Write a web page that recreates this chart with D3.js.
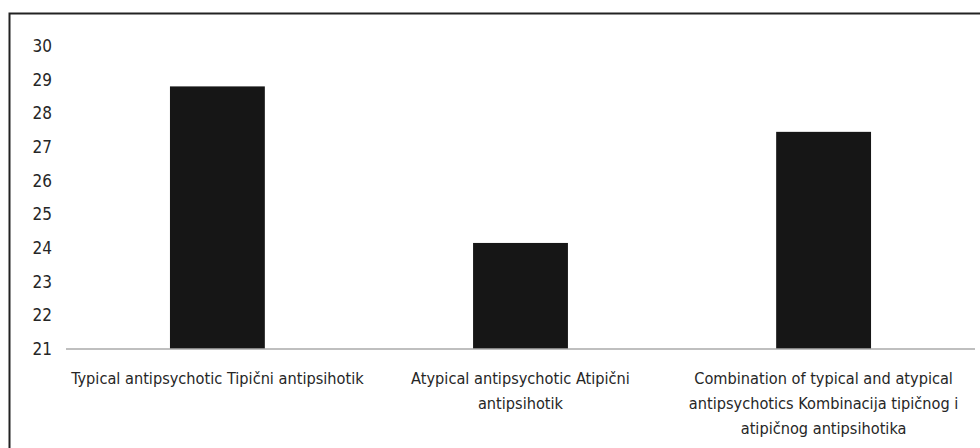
<!DOCTYPE html>
<html>
<head>
<meta charset="utf-8">
<script src="https://cdn.jsdelivr.net/npm/d3@7"></script>
<style>
  body { margin: 0; background: #fff; }
  svg { display: block; }
  text { font-family: "DejaVu Sans Condensed", "Liberation Sans Narrow", sans-serif; fill: #262626; }
</style>
</head>
<body>
<svg id="chart" width="980" height="448"></svg>
<script>
const categories = [
  "Typical antipsychotic Tipični antipsihotik",
  "Atypical antipsychotic Atipični antipsihotik",
  "Combination of typical and atypical antipsychotics Kombinacija tipičnog i atipičnog antipsihotika"
];
const values = [28.8, 24.15, 27.45];
const yTicks = [21, 22, 23, 24, 25, 26, 27, 28, 29, 30];

const svg = d3.select("#chart");
const margin = { left: 66, right: 5, top: 46, bottom: 99 };
const width = 980, height = 448;

// frame around the chart (runs off the right and bottom edge)
svg.append("rect")
  .attr("x", 9.5).attr("y", 13.5)
  .attr("width", 1000).attr("height", 500)
  .attr("fill", "none").attr("stroke", "#222").attr("stroke-width", 2);

const x = d3.scaleBand()
  .domain(categories)
  .range([margin.left, width - margin.right])
  .paddingInner(0.687)
  .paddingOuter(0.343);

const y = d3.scaleLinear()
  .domain([21, 30])
  .range([height - margin.bottom, margin.top]);

// y tick labels, no axis line
const yAxis = svg.append("g")
  .attr("transform", `translate(${margin.left},0)`)
  .call(d3.axisLeft(y).tickValues(yTicks).tickSize(0).tickPadding(14));
yAxis.select(".domain").remove();
yAxis.selectAll("text").attr("font-size", 17).attr("font-family", null).attr("fill", null);

svg.selectAll(".bar")
  .data(values)
  .enter()
  .append("rect")
  .attr("class", "bar")
  .attr("x", (d, i) => x(categories[i]))
  .attr("width", x.bandwidth())
  .attr("y", d => y(d))
  .attr("height", d => y(21) - y(d))
  .attr("fill", "#161616");

// baseline
svg.append("line")
  .attr("x1", margin.left).attr("x2", width - margin.right)
  .attr("y1", y(21)).attr("y2", y(21))
  .attr("stroke", "#aaa").attr("stroke-width", 1.5);

// category labels, wrapped like the original
const labelLines = [
  ["Typical antipsychotic Tipični antipsihotik"],
  ["Atypical antipsychotic Atipični", "antipsihotik"],
  ["Combination of typical and atypical", "antipsychotics Kombinacija tipičnog i", "atipičnog antipsihotika"]
];
categories.forEach((c, i) => {
  const cx = x(c) + x.bandwidth() / 2;
  const t = svg.append("text")
    .attr("x", cx).attr("y", 384)
    .attr("text-anchor", "middle")
    .attr("font-size", 16.2);
  labelLines[i].forEach((line, j) => {
    t.append("tspan").attr("x", cx).attr("dy", j === 0 ? 0 : 25).text(line);
  });
});
</script>
</body>
</html>
